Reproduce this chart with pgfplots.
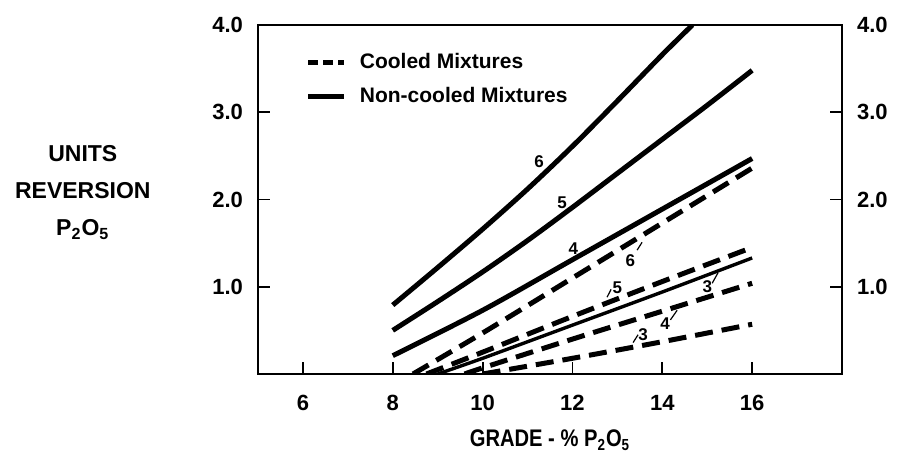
\documentclass[border=0pt]{standalone}
\usepackage{fontspec}
\setmainfont{Liberation Sans}
\newfontfamily\narrowfont[FakeStretch=0.84]{Liberation Sans}
\usepackage{pgfplots}
\pgfplotsset{compat=1.18}
\tikzset{
  solidc/.style={black, line width=2.5pt, line cap=butt},
  thinc/.style={black, line width=1.7pt, line cap=butt},
  dashc/.style={black, line width=2.5pt, line cap=butt, dash pattern=on 9pt off 4.5pt},
}
\begin{document}
\begin{tikzpicture}
\useasboundingbox (-129pt,-46pt) rectangle (321pt,187pt);
\begin{axis}[
  scale only axis, width=292pt, height=174.5pt,
  xmin=5, xmax=18, ymin=0, ymax=4,
  xtick={6,8,10,12,14,16}, xticklabels={6,8,10,12,14,16},
  ytick={1,2,3,4}, yticklabels={1.0,2.0,3.0,4.0},
  xtick pos=left, ytick pos=left,
  tick align=inside, major tick length=6pt,
  axis line style={line width=1pt},
  tick style={line width=0.9pt, black},
  tick label style={font=\fontsize{11}{13}\selectfont\bfseries},
  xticklabel style={yshift=-7pt},
  yticklabel style={xshift=-4pt},
  xlabel={GRADE - \% P\textsubscript{2}O\textsubscript{5}},
  every axis x label/.style={at={(axis description cs:0.5,0)}, anchor=center, yshift=-33pt, font=\narrowfont\fontsize{12}{14}\selectfont\bfseries},
  ylabel={UNITS\\REVERSION\\P\textsubscript{2}O\textsubscript{5}},
  every axis y label/.style={at={(axis description cs:-0.30,0.52)}, anchor=center, align=center, font=\fontsize{11.5}{18.5}\selectfont\bfseries},
  legend style={draw=none, fill=none, at={(axis description cs:0.071,0.943)}, anchor=north west,
    font=\fontsize{10.5}{12}\selectfont\bfseries, row sep=4pt, nodes={inner sep=2pt}},
  legend cell align=left,
  legend image code/.code={\draw[#1] (0pt,0pt) -- (18pt,0pt);},
  /tikz/every odd column/.append style={column sep=4.5pt},
]
\addlegendimage{black, line width=2.5pt, dash pattern=on 5pt off 2.5pt}
\addlegendentry{Cooled Mixtures}
\addlegendimage{black, line width=2.5pt}
\addlegendentry{Non-cooled Mixtures}

% Non-cooled (solid)
\addplot[solidc, smooth, forget plot] coordinates {(8,0.79)(9,1.22)(10,1.66)(11,2.12)(12,2.61)(13,3.13)(14,3.66)(14.67,4.0)};
\addplot[solidc, smooth, forget plot] coordinates {(8,0.50)(9,0.83)(10,1.17)(11,1.53)(12,1.91)(13,2.30)(14,2.69)(15,3.08)(16,3.48)};
\addplot[solidc, smooth, forget plot] coordinates {(8,0.21)(10,0.73)(12,1.31)(14,1.89)(16,2.47)};
\addplot[thinc, smooth, forget plot] coordinates {(9.0,0)(10,0.18)(12,0.56)(14,0.94)(16,1.33)};
% Cooled (dashed)
\addplot[dashc, smooth, forget plot] coordinates {(8.45,0)(10,0.47)(12,1.10)(14,1.73)(16,2.36)};
\addplot[dashc, smooth, forget plot] coordinates {(8.75,0)(10,0.25)(12,0.66)(14,1.06)(16,1.45)};
\addplot[dashc, smooth, forget plot] coordinates {(9.6,0)(10,0.07)(12,0.40)(14,0.72)(16,1.04)};
\addplot[dashc, smooth, forget plot] coordinates {(10,0)(12,0.18)(14,0.37)(16,0.57)};

% curve labels
\begin{scope}[every node/.style={font=\fontsize{8.5}{10}\selectfont\bfseries, inner sep=0.5pt}]
\node at (axis cs:11.26,2.43) {6};
\node at (axis cs:11.77,1.96) {5};
\node at (axis cs:12.02,1.44) {4};
\node at (axis cs:13.29,1.30) {6};
\node at (axis cs:13.00,0.99) {5};
\node at (axis cs:15.00,1.00) {3};
\node at (axis cs:14.06,0.58) {4};
\node at (axis cs:13.57,0.45) {3};
\end{scope}
\draw[line width=0.6pt] (axis cs:13.44,1.42) -- (axis cs:13.55,1.51);
\draw[line width=0.6pt] (axis cs:12.77,0.88) -- (axis cs:12.86,0.97);
\draw[line width=0.6pt] (axis cs:15.11,1.04) -- (axis cs:15.24,1.16);
\draw[line width=0.6pt] (axis cs:14.18,0.62) -- (axis cs:14.33,0.73);
\draw[line width=0.6pt] (axis cs:13.35,0.36) -- (axis cs:13.46,0.45);
\end{axis}
\begin{axis}[
  scale only axis, width=292pt, height=174.5pt,
  xmin=5, xmax=18, ymin=0, ymax=4,
  hide x axis,
  ytick={1,2,3,4}, yticklabels={1.0,2.0,3.0,4.0},
  ytick pos=right, yticklabel pos=right,
  tick align=inside, major tick length=6pt,
  axis line style={line width=1pt},
  tick style={line width=0.9pt, black},
  tick label style={font=\fontsize{11}{13}\selectfont\bfseries},
  yticklabel style={xshift=4pt},
]
\end{axis}
\end{tikzpicture}
\end{document}
